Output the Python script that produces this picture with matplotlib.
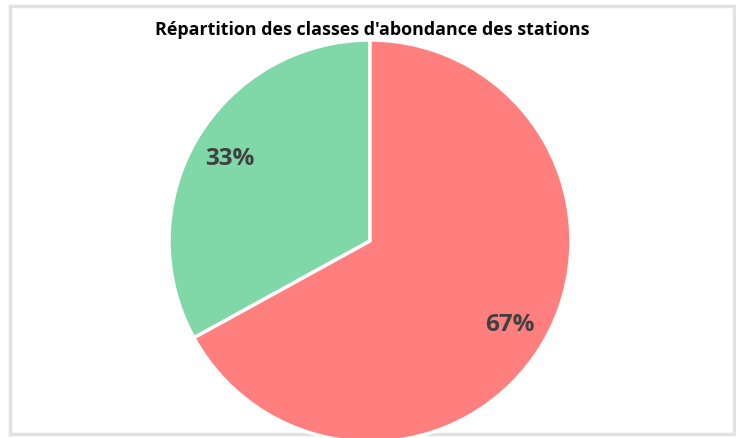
import matplotlib
matplotlib.use("Agg")
import matplotlib.pyplot as plt
from matplotlib.patches import Rectangle

title = "Répartition des classes d'abondance des stations"
categories = ["Classe A", "Classe B"]
values = [33, 67]
colors = ["#80D8A8", "#FF7E7E"]

W, H = 736, 439
fig = plt.figure(figsize=(W / 100, H / 100), dpi=100)
fig.patch.set_facecolor("white")

# light grey frame
fig.patches.append(Rectangle((9.5 / W, (H - 434.5) / H), (734 - 9.5) / W, (434.5 - 7) / H,
                             transform=fig.transFigure, fill=False,
                             edgecolor="#E2E2E2", linewidth=2.5, zorder=-1))

ax = fig.add_axes([0, 0, 1, 1])
ax.set_facecolor("none")
cx, cy, R = 370, 242, 201

wedges, texts, autotexts = ax.pie(
    values, colors=colors, startangle=90, counterclock=True, radius=1,
    autopct="%1.0f%%", pctdistance=0.81,
    wedgeprops=dict(edgecolor="white", linewidth=2.5),
    textprops=dict(fontsize=17.5, fontweight="bold", color="#404040", family="Open Sans"))
ax.set_xlim(-cx / R, (W - cx) / R)
ax.set_ylim(-(H - cy) / R, cy / R)
ax.axis("off")

fig.text(372 / W, 1 - 30 / H, title, ha="center", va="center",
         fontsize=12.9, fontweight="bold", family="Open Sans", color="#000000")

fig.savefig("out.png", dpi=100)
